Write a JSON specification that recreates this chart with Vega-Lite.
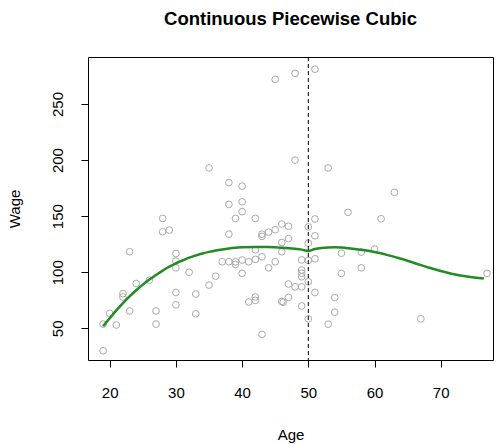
{
  "$schema": "https://vega.github.io/schema/vega-lite/v6.json",
  "width": 405,
  "height": 303,
  "autosize": "none",
  "padding": {"left": 88, "top": 57, "right": 7, "bottom": 84},
  "title": {"text": "Continuous Piecewise Cubic", "font": "Liberation Sans", "fontSize": 18.5, "fontWeight": "bold", "color": "black", "anchor": "middle", "offset": 28},
  "config": {
    "view": {"stroke": "black", "strokeWidth": 1},
    "axis": {"grid": false, "domain": false, "tickColor": "black", "tickSize": 7, "labelFont": "Liberation Sans", "labelFontSize": 15, "labelColor": "black", "titleFont": "Liberation Sans", "titleFontSize": 15, "titleFontWeight": "normal", "titleColor": "black"}
  },
  "datasets": {
    "points": [
      {"age": 19, "wage": 30}, {"age": 19, "wage": 53.8}, {"age": 20, "wage": 63.4}, {"age": 21, "wage": 53},
      {"age": 22, "wage": 81}, {"age": 22, "wage": 78}, {"age": 23, "wage": 118.3}, {"age": 23, "wage": 65.5},
      {"age": 24, "wage": 90}, {"age": 26, "wage": 93}, {"age": 27, "wage": 65.5}, {"age": 27, "wage": 53.8},
      {"age": 28, "wage": 148}, {"age": 28, "wage": 136.1}, {"age": 29, "wage": 137.6}, {"age": 30, "wage": 116.8},
      {"age": 30, "wage": 110}, {"age": 30, "wage": 104}, {"age": 30, "wage": 82}, {"age": 30, "wage": 71},
      {"age": 32, "wage": 100}, {"age": 33, "wage": 80.6}, {"age": 33, "wage": 63}, {"age": 35, "wage": 193},
      {"age": 35, "wage": 88.6}, {"age": 36, "wage": 96.5}, {"age": 37, "wage": 109.4}, {"age": 38, "wage": 180},
      {"age": 38, "wage": 160.5}, {"age": 38, "wage": 134}, {"age": 38, "wage": 109.4}, {"age": 39, "wage": 148},
      {"age": 39, "wage": 109.4}, {"age": 39, "wage": 107}, {"age": 40, "wage": 176.8}, {"age": 40, "wage": 162.8},
      {"age": 40, "wage": 154}, {"age": 40, "wage": 110.9}, {"age": 40, "wage": 99}, {"age": 41, "wage": 109.4},
      {"age": 41, "wage": 73.5}, {"age": 42, "wage": 148}, {"age": 42, "wage": 120}, {"age": 42, "wage": 111.5},
      {"age": 42, "wage": 78}, {"age": 42, "wage": 75}, {"age": 43, "wage": 134}, {"age": 43, "wage": 132},
      {"age": 43, "wage": 113.8}, {"age": 43, "wage": 44.6}, {"age": 44, "wage": 135.8}, {"age": 44, "wage": 104},
      {"age": 45, "wage": 271.9}, {"age": 45, "wage": 138}, {"age": 45, "wage": 109.4}, {"age": 46, "wage": 143},
      {"age": 46, "wage": 126.5}, {"age": 46, "wage": 118.3}, {"age": 46, "wage": 74}, {"age": 46.2, "wage": 73.2},
      {"age": 47, "wage": 141}, {"age": 47, "wage": 130}, {"age": 47, "wage": 89.5}, {"age": 47, "wage": 77.6},
      {"age": 48, "wage": 277.3}, {"age": 48, "wage": 200}, {"age": 48, "wage": 87}, {"age": 49, "wage": 111},
      {"age": 49, "wage": 102}, {"age": 49, "wage": 99}, {"age": 49, "wage": 96}, {"age": 49, "wage": 87},
      {"age": 49, "wage": 70}, {"age": 50, "wage": 140.5}, {"age": 50, "wage": 126}, {"age": 50, "wage": 110.5},
      {"age": 50, "wage": 91.5}, {"age": 50, "wage": 58.5}, {"age": 51, "wage": 281}, {"age": 51, "wage": 147.5},
      {"age": 51, "wage": 132.5}, {"age": 51, "wage": 112}, {"age": 51, "wage": 82}, {"age": 53, "wage": 193},
      {"age": 53, "wage": 53.7}, {"age": 54, "wage": 77.5}, {"age": 54, "wage": 64.4}, {"age": 55, "wage": 117},
      {"age": 55, "wage": 99}, {"age": 56, "wage": 153.4}, {"age": 58, "wage": 118}, {"age": 58, "wage": 104},
      {"age": 60, "wage": 120.7}, {"age": 61, "wage": 147.7}, {"age": 63, "wage": 171.2}, {"age": 67, "wage": 58.5},
      {"age": 77, "wage": 99}
    ],
    "curve": [
      {"age": 19, "fit": 52}, {"age": 20, "fit": 59}, {"age": 21, "fit": 66}, {"age": 22, "fit": 72.5},
      {"age": 23, "fit": 78.5}, {"age": 24, "fit": 84}, {"age": 25, "fit": 89}, {"age": 26, "fit": 93.5},
      {"age": 27, "fit": 97.5}, {"age": 28, "fit": 101.5}, {"age": 29, "fit": 105}, {"age": 30, "fit": 108},
      {"age": 31, "fit": 110.5}, {"age": 32, "fit": 113}, {"age": 33, "fit": 115}, {"age": 34, "fit": 116.8},
      {"age": 35, "fit": 118.2}, {"age": 36, "fit": 119.4}, {"age": 37, "fit": 120.4}, {"age": 38, "fit": 121.2},
      {"age": 39, "fit": 121.8}, {"age": 40, "fit": 122.2}, {"age": 42, "fit": 122.6}, {"age": 44, "fit": 122.5},
      {"age": 46, "fit": 121.9}, {"age": 48, "fit": 120.9}, {"age": 49, "fit": 120.2}, {"age": 50, "fit": 119},
      {"age": 51, "fit": 120.8}, {"age": 52, "fit": 121.7}, {"age": 53, "fit": 122.1}, {"age": 54, "fit": 122.2},
      {"age": 55, "fit": 122}, {"age": 56, "fit": 121.5}, {"age": 57, "fit": 120.8}, {"age": 58, "fit": 120},
      {"age": 60, "fit": 118}, {"age": 62, "fit": 115.3}, {"age": 64, "fit": 112}, {"age": 66, "fit": 108.3},
      {"age": 68, "fit": 104.5}, {"age": 70, "fit": 101.2}, {"age": 72, "fit": 98.3}, {"age": 74, "fit": 96.2},
      {"age": 76.5, "fit": 94.5}
    ]
  },
  "layer": [
    {
      "data": {"name": "points"},
      "mark": {"type": "point", "shape": "circle", "filled": false, "stroke": "#a9a9a9", "strokeWidth": 1, "size": 45, "opacity": 1},
      "encoding": {
        "x": {"field": "age", "type": "quantitative", "scale": {"domain": [16.72, 77.9], "nice": false, "zero": false},
              "axis": {"values": [20, 30, 40, 50, 60, 70], "title": "Age", "labelPadding": 18, "titlePadding": 27}},
        "y": {"field": "wage", "type": "quantitative", "scale": {"domain": [21.8, 291.9], "nice": false, "zero": false},
              "axis": {"values": [50, 100, 150, 200, 250], "title": "Wage", "labelAngle": -90, "labelAlign": "center", "labelBaseline": "bottom", "labelPadding": 16, "titlePadding": 28}}
      }
    },
    {
      "data": {"name": "curve"},
      "mark": {"type": "line", "color": "#228B22", "strokeWidth": 2.5, "interpolate": "monotone"},
      "encoding": {
        "x": {"field": "age", "type": "quantitative"},
        "y": {"field": "fit", "type": "quantitative"}
      }
    },
    {
      "data": {"values": [{"knot": 50}]},
      "mark": {"type": "rule", "color": "black", "strokeWidth": 1, "strokeDash": [4, 3]},
      "encoding": {"x": {"field": "knot", "type": "quantitative"}}
    }
  ]
}
